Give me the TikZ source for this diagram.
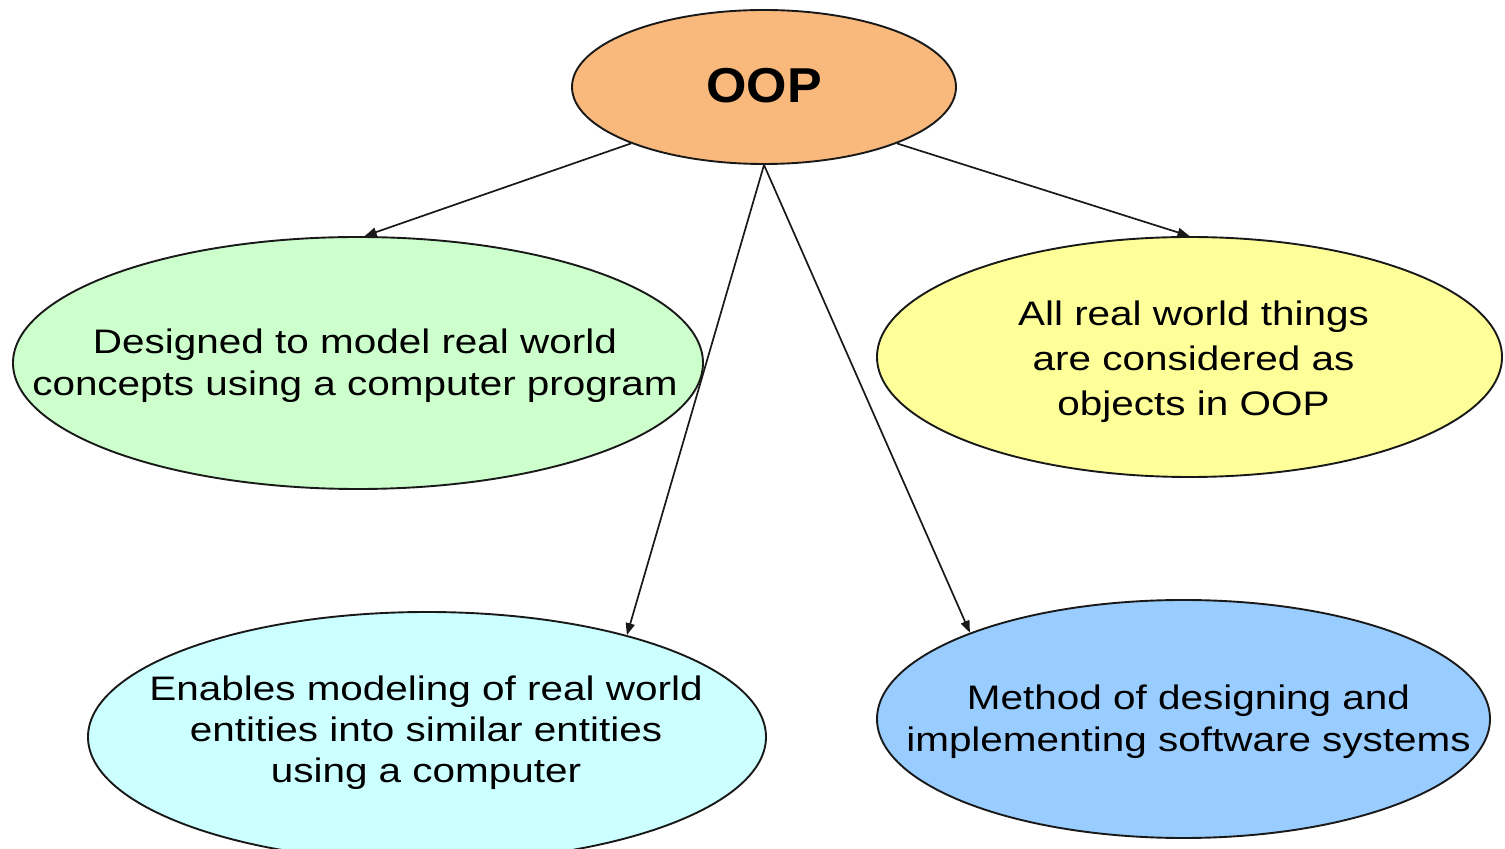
\documentclass[tikz,border=0pt]{standalone}
\usepackage{fontspec}
\usepackage{graphicx}
\setmainfont{Liberation Sans}
\usetikzlibrary{shapes.geometric,arrows.meta}

\definecolor{oopfill}{RGB}{249,185,124}
\definecolor{greenfill}{RGB}{204,255,204}
\definecolor{yellowfill}{RGB}{255,255,153}
\definecolor{cyanfill}{RGB}{204,255,255}
\definecolor{bluefill}{RGB}{153,204,255}
\definecolor{linegray}{RGB}{25,25,25}

\tikzset{
  bubble/.style={ellipse, draw=linegray, line width=0.95pt, inner sep=0pt},
  bubbletext/.style={inner sep=0pt, align=center, text=black,
    font=\fontsize{17}{21}\selectfont},
  arr/.style={draw=linegray, line width=0.85pt,
    -{Triangle[length=6pt,width=4.5pt]}},
}

\newcommand{\wide}[1]{\scalebox{1.19}[1]{#1}}

\begin{document}
\begin{tikzpicture}[x=0.5pt,y=-0.5pt]
  \useasboundingbox (0,0) rectangle (1505,849);

  % the five bubbles
  \node[bubble, fill=oopfill, minimum width=192pt, minimum height=77pt] (oop) at (764,87) {};
  \node[bubble, fill=greenfill, minimum width=345pt, minimum height=126pt] (green) at (358,363) {};
  \node[bubble, fill=yellowfill, minimum width=312.5pt, minimum height=120pt] (yellow) at (1189.5,357) {};
  \node[bubble, fill=cyanfill, minimum width=339pt, minimum height=125pt] (cyan) at (427,737) {};
  \node[bubble, fill=bluefill, minimum width=306.5pt, minimum height=119pt] (blue) at (1183.5,719) {};

  % texts
  \node[inner sep=0pt, font=\fontsize{24.5}{28}\selectfont\bfseries] (oopt) at ([yshift=0.5pt]oop.center)
    {\scalebox{1.06}[1]{OOP}};
  \node[bubbletext] (greent) at ([xshift=-1.5pt,yshift=-1.5pt]green.center)
    {\wide{Designed to model real world}\\\wide{concepts using a computer program}};
  \node[bubbletext, font=\fontsize{17}{22.5}\selectfont] (yellowt) at ([xshift=2pt,yshift=-2.5pt]yellow.center)
    {\wide{All real world things}\\\wide{are considered as}\\\wide{objects in OOP}};
  \node[bubbletext, font=\fontsize{17}{20.5}\selectfont] (cyant) at ([yshift=2pt,xshift=-0.5pt]cyan.center)
    {\wide{Enables modeling of real world}\\\wide{entities into similar entities}\\\wide{using a computer}};
  \node[bubbletext] (bluet) at ([xshift=2.5pt,yshift=-1.5pt]blue.center)
    {\wide{Method of designing and}\\\wide{implementing software systems}};

  % connectors
  \draw[arr] (oop.203) -- (green.87);
  \draw[arr] (oop.337) -- (yellow.north);
  \draw[arr] (oop.south) -- (cyan.27);
  \draw[arr] (oop.south) -- (blue.158);
\end{tikzpicture}
\end{document}
